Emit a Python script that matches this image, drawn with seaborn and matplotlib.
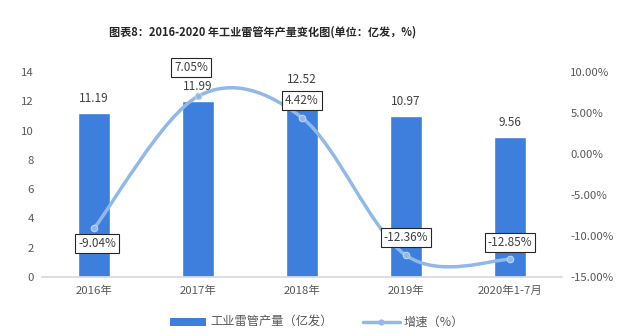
import numpy as np
import matplotlib
matplotlib.use("Agg")
import matplotlib.pyplot as plt
from matplotlib.path import Path
from matplotlib.patches import PathPatch, Patch
from matplotlib.lines import Line2D
from matplotlib.ticker import FuncFormatter, MultipleLocator
import seaborn as sns

# Data
years = ["2016年", "2017年", "2018年", "2019年", "2020年1-7月"]
output = [11.19, 11.99, 12.52, 10.97, 9.56]          # 亿发
growth = [-9.04, 7.05, 4.42, -12.36, -12.85]         # %

title = "图表8：2016-2020 年工业雷管年产量变化图(单位：亿发，%)"
bar_label = "工业雷管产量（亿发）"
line_label = "增速（%）"

BAR_C = "#3E7EDC"
LINE_C = "#90B9E8"
TXT_C = "#595959"

sns.set_theme(style="white")
plt.rcParams["font.family"] = ["Noto Sans CJK SC", "DejaVu Sans"]

fig = plt.figure(figsize=(6.4, 3.35), dpi=100)
ax = fig.add_axes([0.066, 0.173, 0.812, 0.612])

sns.barplot(x=years, y=output, color=BAR_C, saturation=1, width=0.31, ax=ax)
ax.set_xlim(-0.5, len(years) - 0.5)
ax.set_ylim(0, 14)
ax.yaxis.set_major_locator(MultipleLocator(2))
ax.set_xlabel("")
ax.set_ylabel("")
for s in ["top", "right", "left"]:
    ax.spines[s].set_visible(False)
ax.spines["bottom"].set_color("#D9D9D9")
ax.tick_params(axis="both", length=0, labelsize=8.2, colors=TXT_C, pad=6)

for i, v in enumerate(output):
    ax.text(i, v + 0.55, f"{v:.2f}", ha="center", va="bottom",
            fontsize=8.5, color="#404040")

# Growth rate on secondary axis
ax2 = ax.twinx()
ax2.set_ylim(-15, 10)
ax2.yaxis.set_major_locator(MultipleLocator(5))
ax2.yaxis.set_major_formatter(FuncFormatter(lambda v, p: f"{v:.2f}%"))
for s in ["top", "right", "left", "bottom"]:
    ax2.spines[s].set_visible(False)
ax2.tick_params(axis="y", length=0, labelsize=8.2, colors=TXT_C, pad=6)
ax2.grid(False)

# Smoothed curve (Catmull-Rom as cubic Bezier segments)
xs = np.arange(len(growth), dtype=float)
ys = np.array(growth, dtype=float)
pts = np.column_stack([xs, ys])
ext = np.vstack([pts[0], pts, pts[-1]])
verts = [tuple(pts[0])]
codes = [Path.MOVETO]
for k in range(len(pts) - 1):
    p0, p1, p2, p3 = ext[k], ext[k + 1], ext[k + 2], ext[k + 3]
    c1 = p1 + (p2 - p0) / 6.0
    c2 = p2 - (p3 - p1) / 6.0
    verts += [tuple(c1), tuple(c2), tuple(p2)]
    codes += [Path.CURVE4] * 3
ax2.add_patch(PathPatch(Path(verts, codes), facecolor="none",
                        edgecolor=LINE_C, lw=2.5, zorder=3))
sns.scatterplot(x=xs, y=ys, ax=ax2, color=LINE_C, s=22,
                edgecolor="#BCD5F2", linewidth=0.8, zorder=4, legend=False)

box = dict(boxstyle="square,pad=0.25", facecolor="white",
           edgecolor="#262626", linewidth=0.8)
offsets = [(3, -15), (-7, 29), (0, 17), (0, 18), (0, 17)]
for i, (v, (dx, dy)) in enumerate(zip(growth, offsets)):
    ax2.annotate(f"{v:.2f}%", (i, v), xytext=(dx, dy), textcoords="offset pixels",
                 ha="center", va="center", fontsize=8.5, color="#404040",
                 bbox=box, zorder=5)

fig.text(0.41, 0.905, title, ha="center", va="center", fontsize=8,
         fontweight="bold", color="#262626")

handles = [Patch(facecolor=BAR_C, edgecolor="none"),
           Line2D([0], [0], color=LINE_C, lw=2.5, marker="o", markersize=3.5)]
fig.legend(handles, [bar_label, line_label], loc="center",
           bbox_to_anchor=(0.495, 0.037), ncol=2, frameon=False,
           fontsize=8.8, labelcolor=TXT_C, handlelength=3.0,
           handleheight=0.6, columnspacing=2.5, handletextpad=0.3)

fig.savefig("out.png", dpi=100)
